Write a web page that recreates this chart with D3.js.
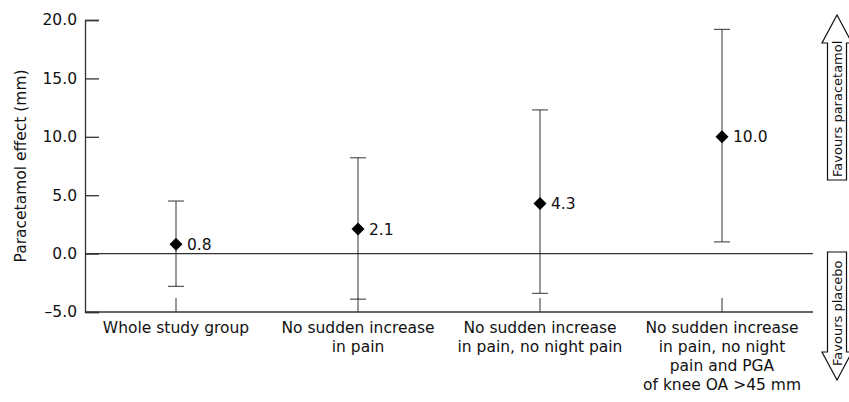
<!DOCTYPE html>
<html>
<head>
<meta charset="utf-8">
<script src="https://cdn.jsdelivr.net/npm/d3@7"></script>
<style>
  body { margin: 0; background: #fff; }
  text { font-family: "DejaVu Sans", sans-serif; fill: #111; }
</style>
</head>
<body>
<div id="chart"></div>
<script>
// Chart data
var groups = ["g1", "g2", "g3", "g4"];
var groupLabels = [
    ["Whole study group"],
    ["No sudden increase", "in pain"],
    ["No sudden increase", "in pain, no night pain"],
    ["No sudden increase", "in pain, no night", "pain and PGA", "of knee OA >45 mm"]
];
var effects = [0.8, 2.1, 4.3, 10.0];
var lowerCI = [-2.8, -3.9, -3.4, 1.0];
var upperCI = [4.5, 8.2, 12.3, 19.2];
var yTicks = [-5, 0, 5, 10, 15, 20];

var svgWidth = 849;
var svgHeight = 402;

var margin = { top: 20, bottom: 90, left: 85, right: 36 };
var width = svgWidth - margin.left - margin.right;
var height = 312 - margin.top;

var svg = d3.select("#chart")
    .append("svg")
    .attr("width", svgWidth)
    .attr("height", svgHeight);

var chartGroup = svg.append("g")
    .attr("transform", `translate(${margin.left}, ${margin.top})`);

// Scales
var xScale = d3.scaleBand()
    .domain(groups)
    .range([0, width]);

var yScale = d3.scaleLinear()
    .domain([-5, 20])
    .range([height, 0]);

var lineColor = "#333";

// Y axis (ticks point inward)
var leftAxis = d3.axisLeft(yScale)
    .tickValues(yTicks)
    .tickSize(-14)
    .tickFormat(d => d < 0 ? "\u2013" + Math.abs(d).toFixed(1) : d.toFixed(1));

var yAxis = chartGroup.append("g").call(leftAxis);
yAxis.select(".domain").attr("stroke", lineColor).attr("stroke-width", 1.3);
yAxis.selectAll(".tick line").attr("stroke", lineColor).attr("stroke-width", 1.3);
yAxis.selectAll(".tick text")
    .attr("x", -8)
    .style("font-family", "DejaVu Sans, sans-serif")
    .style("font-size", "15.5px")
    .attr("fill", "#111");

// X axis line and small upward ticks
chartGroup.append("line")
    .attr("x1", 0).attr("x2", width)
    .attr("y1", height).attr("y2", height)
    .attr("stroke", lineColor).attr("stroke-width", 1.3);

chartGroup.selectAll(".xtick")
    .data(groups)
    .enter()
    .append("line")
    .attr("x1", d => xScale(d) + xScale.bandwidth() / 2)
    .attr("x2", d => xScale(d) + xScale.bandwidth() / 2)
    .attr("y1", height)
    .attr("y2", height - 14)
    .attr("stroke", lineColor);

// Zero line
chartGroup.append("line")
    .attr("x1", 0).attr("x2", width)
    .attr("y1", yScale(0)).attr("y2", yScale(0))
    .attr("stroke", lineColor).attr("stroke-width", 1.2);

// Category labels
var labelGroup = chartGroup.selectAll(".xlabel")
    .data(groups)
    .enter()
    .append("text")
    .attr("text-anchor", "middle")
    .style("font-size", "15.5px")
    .attr("transform", d => `translate(${xScale(d) + xScale.bandwidth() / 2}, ${height + 21})`);

labelGroup.each(function (d, i) {
    var t = d3.select(this);
    groupLabels[i].forEach(function (line, j) {
        t.append("tspan")
            .attr("x", 0)
            .attr("y", j * 19)
            .text(line);
    });
});

// Error bars
var bars = chartGroup.selectAll(".bar")
    .data(groups)
    .enter()
    .append("g")
    .attr("transform", d => `translate(${xScale(d) + xScale.bandwidth() / 2}, 0)`);

bars.append("line")
    .attr("x1", 0).attr("x2", 0)
    .attr("y1", (d, i) => yScale(lowerCI[i]))
    .attr("y2", (d, i) => yScale(upperCI[i]))
    .attr("stroke", lineColor);

bars.append("line")
    .attr("x1", -8).attr("x2", 8)
    .attr("y1", (d, i) => yScale(upperCI[i]))
    .attr("y2", (d, i) => yScale(upperCI[i]))
    .attr("stroke", lineColor);

bars.append("line")
    .attr("x1", -8).attr("x2", 8)
    .attr("y1", (d, i) => yScale(lowerCI[i]))
    .attr("y2", (d, i) => yScale(lowerCI[i]))
    .attr("stroke", lineColor);

bars.append("path")
    .attr("d", "M0,-6.5L6.5,0L0,6.5L-6.5,0Z")
    .attr("transform", (d, i) => `translate(0, ${yScale(effects[i])})`)
    .attr("fill", "#000");

bars.append("text")
    .attr("x", 11)
    .attr("y", (d, i) => yScale(effects[i]))
    .attr("dy", "0.36em")
    .style("font-size", "15.5px")
    .text((d, i) => effects[i].toFixed(1));

// Y axis title
svg.append("text")
    .attr("transform", `translate(26, 166) rotate(-90)`)
    .attr("text-anchor", "middle")
    .style("font-size", "15.5px")
    .text("Paracetamol effect (mm)");

// Direction arrows at the right
var ax = 837;
function blockArrow(yTail, yBase, yTip) {
    var sw = 9.5, hw = 15;
    return `M${ax - sw},${yTail}L${ax - sw},${yBase}L${ax - hw},${yBase}L${ax},${yTip}` +
        `L${ax + hw},${yBase}L${ax + sw},${yBase}L${ax + sw},${yTail}Z`;
}

svg.append("path")
    .attr("d", blockArrow(180, 43, 15))
    .attr("fill", "#fff").attr("stroke", "#111").attr("stroke-width", 1.2);

svg.append("path")
    .attr("d", blockArrow(252, 352, 380))
    .attr("fill", "#fff").attr("stroke", "#111").attr("stroke-width", 1.2);

svg.append("text")
    .attr("transform", `translate(${ax + 5}, 177) rotate(-90)`)
    .style("font-size", "13px")
    .text("Favours paracetamol");

svg.append("text")
    .attr("transform", `translate(${ax + 5}, 366) rotate(-90)`)
    .style("font-size", "13px")
    .text("Favours placebo");
</script>
</body>
</html>
